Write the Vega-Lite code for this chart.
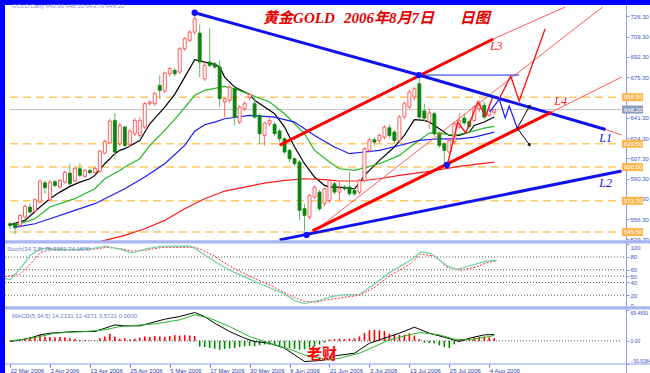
{
"$schema":"https://vega.github.io/schema/vega-lite/v6.json",
"background":"#0000ff",
"padding":{"left":3,"top":3,"right":2,"bottom":2},
"spacing":0,
"bounds":"flush",
"config":{"view":{"stroke":null,"fill":"white"},"axis":{"labelFont":"Liberation Sans","labelFontSize":6,"labelColor":"#4455cc","domainColor":"#8c9cf0","tickColor":"#8c9cf0","grid":false},"text":{"font":"Liberation Sans"}},
"datasets":{
"candles":[
{"n":0,"o":552.5,"h":554,"l":548,"c":551},{"n":1,"o":551.9,"h":554,"l":543.6,"c":549.1},{"n":2,"o":551.1,"h":560.5,"l":549,"c":559.5},{"n":3,"o":558.1,"h":568.7,"l":556.7,"c":567},{"n":4,"o":566.5,"h":569.3,"l":560.9,"c":562.3},{"n":5,"o":563.1,"h":574,"l":561,"c":572.6},{"n":6,"o":570.7,"h":589.4,"l":569.3,"c":588.3},{"n":7,"o":586.8,"h":588.8,"l":577.6,"c":582.7},{"n":8,"o":572.6,"h":589,"l":571,"c":587.4},{"n":9,"o":587.7,"h":589.4,"l":583,"c":584.6},
{"n":10,"o":583.2,"h":590,"l":582,"c":588.8},{"n":11,"o":587.4,"h":597,"l":586,"c":595.5},{"n":12,"o":594.9,"h":602.8,"l":584.6,"c":586},{"n":13,"o":588.3,"h":600.5,"l":587,"c":598.9},{"n":14,"o":598.6,"h":603.3,"l":591.6,"c":593},{"n":15,"o":592.2,"h":598.5,"l":591,"c":597.2},{"n":16,"o":597.2,"h":598.5,"l":594,"c":595.2},{"n":17,"o":595.5,"h":600,"l":594.5,"c":598.9},{"n":18,"o":596.6,"h":614.5,"l":595,"c":613.4},{"n":19,"o":611.7,"h":623,"l":610.5,"c":621.5},
{"n":20,"o":620.1,"h":640.5,"l":619.5,"c":638.5},{"n":21,"o":639.1,"h":645.3,"l":607,"c":612.6},{"n":22,"o":619.5,"h":637,"l":617,"c":634.9},{"n":23,"o":633.5,"h":634.9,"l":616.8,"c":618.1},{"n":24,"o":619,"h":632,"l":617,"c":630.2},{"n":25,"o":627.9,"h":641,"l":626,"c":639.1},{"n":26,"o":626.5,"h":641.9,"l":625,"c":639.1},{"n":27,"o":633.5,"h":654.5,"l":632,"c":653.1},{"n":28,"o":653.1,"h":656,"l":651.5,"c":654.5},{"n":29,"o":653.1,"h":663,"l":651,"c":661.5},
{"n":30,"o":668.4,"h":676.8,"l":657.3,"c":664.3},{"n":31,"o":663.7,"h":680,"l":662,"c":678.8},{"n":32,"o":678.2,"h":684,"l":676,"c":682.4},{"n":33,"o":681,"h":683,"l":676,"c":678.2},{"n":34,"o":679.6,"h":700.5,"l":678,"c":699.2},{"n":35,"o":699.2,"h":709,"l":697,"c":707.6},{"n":36,"o":706.2,"h":714.5,"l":705,"c":713.1},{"n":37,"o":713.1,"h":727.1,"l":711,"c":724.3},{"n":38,"o":712.3,"h":719.6,"l":675.4,"c":688},{"n":39,"o":674,"h":688,"l":672,"c":685.2},
{"n":40,"o":688,"h":716.8,"l":683.8,"c":685.2},{"n":41,"o":686.6,"h":688,"l":682,"c":683.8},{"n":42,"o":683.8,"h":689.4,"l":650.3,"c":657.3},{"n":43,"o":654.5,"h":658,"l":641.9,"c":657.3},{"n":44,"o":655.9,"h":669,"l":654,"c":667},{"n":45,"o":665.6,"h":667,"l":634.9,"c":641.9},{"n":46,"o":637.7,"h":652,"l":636,"c":650.3},{"n":47,"o":648.9,"h":655,"l":647,"c":653.1},{"n":48,"o":658.1,"h":662,"l":656,"c":660.9},{"n":49,"o":653.1,"h":658.7,"l":640.5,"c":641.9},
{"n":50,"o":643.3,"h":645,"l":619.5,"c":627.9},{"n":51,"o":626.5,"h":637.7,"l":618.1,"c":636.9},{"n":52,"o":636.3,"h":641,"l":634,"c":639.1},{"n":53,"o":635.8,"h":638,"l":626,"c":627.9},{"n":54,"o":630.2,"h":632,"l":621,"c":623.7},{"n":55,"o":623.7,"h":625,"l":611.2,"c":612.6},{"n":56,"o":614,"h":615,"l":604.2,"c":607},{"n":57,"o":607,"h":608,"l":600.6,"c":602.8},{"n":58,"o":604.2,"h":606,"l":555.3,"c":563.7},{"n":59,"o":565.1,"h":569.3,"l":546,"c":559.5},
{"n":60,"o":558.1,"h":577.6,"l":556,"c":576.2},{"n":61,"o":574.8,"h":584.6,"l":573,"c":583.2},{"n":62,"o":579,"h":581,"l":563,"c":565.1},{"n":63,"o":569.3,"h":583,"l":567,"c":581.8},{"n":64,"o":572,"h":590.2,"l":570,"c":588.8},{"n":65,"o":586,"h":588,"l":577,"c":579},{"n":66,"o":579,"h":587.4,"l":572,"c":581.8},{"n":67,"o":583.2,"h":585,"l":580,"c":581.8},{"n":68,"o":583.2,"h":595.8,"l":576,"c":577.6},{"n":69,"o":580.4,"h":582,"l":576,"c":577.6},
{"n":70,"o":579,"h":590,"l":577,"c":588.8},{"n":71,"o":588.8,"h":617,"l":587,"c":615.4},{"n":72,"o":614,"h":624,"l":612,"c":622.9},{"n":73,"o":622.9,"h":625,"l":618,"c":620.9},{"n":74,"o":622.3,"h":628,"l":620,"c":626.5},{"n":75,"o":625.1,"h":635,"l":623,"c":633.5},{"n":76,"o":632.9,"h":635.7,"l":624,"c":626.5},{"n":77,"o":629.3,"h":631,"l":620,"c":622.3},{"n":78,"o":622.3,"h":643.5,"l":620,"c":641.9},{"n":79,"o":641.9,"h":655,"l":640,"c":653.1},
{"n":80,"o":650.3,"h":665,"l":649,"c":662.9},{"n":81,"o":658.7,"h":667,"l":656,"c":665.6},{"n":82,"o":669.8,"h":676,"l":640,"c":641.9},{"n":83,"o":647,"h":653,"l":638,"c":641},{"n":84,"o":638,"h":649,"l":632,"c":645.3},{"n":85,"o":644.7,"h":646.5,"l":626,"c":627.9},{"n":86,"o":627.9,"h":630,"l":616,"c":618.1},{"n":87,"o":619.5,"h":621,"l":603,"c":614},{"n":88,"o":612.6,"h":624,"l":611,"c":622.3},{"n":89,"o":621,"h":638,"l":620,"c":636.3},
{"n":90,"o":633.5,"h":645,"l":632,"c":639.1},{"n":91,"o":641,"h":645,"l":635,"c":637},{"n":92,"o":638,"h":640,"l":632,"c":634},{"n":93,"o":639.1,"h":652,"l":638,"c":650.3},{"n":94,"o":648.9,"h":656,"l":646,"c":653.1},{"n":95,"o":651.7,"h":655,"l":640,"c":641.9},{"n":96,"o":643.3,"h":653,"l":642,"c":647.5},{"n":97,"o":645.9,"h":648.5,"l":643.7,"c":648.2}
],
"ma":[
{"s":"ma1","n":0,"p":551.6},{"s":"ma1","n":3,"p":555.3},{"s":"ma1","n":6,"p":566.5},{"s":"ma1","n":8,"p":573.5},{"s":"ma1","n":10,"p":579},{"s":"ma1","n":12,"p":583.8},{"s":"ma1","n":14,"p":587.4},{"s":"ma1","n":16,"p":590.2},{"s":"ma1","n":17,"p":593},{"s":"ma1","n":19,"p":602.8},{"s":"ma1","n":21,"p":611.2},{"s":"ma1","n":22,"p":614},{"s":"ma1","n":23,"p":615.4},{"s":"ma1","n":26,"p":622.3},{"s":"ma1","n":28,"p":636.3},{"s":"ma1","n":31,"p":650.3},{"s":"ma1","n":33,"p":660.9},{"s":"ma1","n":35,"p":675.4},{"s":"ma1","n":37,"p":690},{"s":"ma1","n":39,"p":688},{"s":"ma1","n":41,"p":686},{"s":"ma1","n":42,"p":683.8},{"s":"ma1","n":43,"p":675.4},{"s":"ma1","n":45,"p":667},{"s":"ma1","n":48,"p":660.9},{"s":"ma1","n":49,"p":655.9},{"s":"ma1","n":51,"p":650.3},{"s":"ma1","n":53,"p":644.7},{"s":"ma1","n":55,"p":633.5},{"s":"ma1","n":57,"p":616.8},{"s":"ma1","n":59,"p":602.8},{"s":"ma1","n":61,"p":591.6},{"s":"ma1","n":63,"p":584.6},{"s":"ma1","n":64,"p":583.2},{"s":"ma1","n":66,"p":583.2},{"s":"ma1","n":69,"p":581.8},{"s":"ma1","n":70,"p":586.5},{"s":"ma1","n":71,"p":593},{"s":"ma1","n":72,"p":597.2},{"s":"ma1","n":74,"p":605.6},{"s":"ma1","n":77,"p":616.8},{"s":"ma1","n":79,"p":626.5},{"s":"ma1","n":81,"p":639.7},{"s":"ma1","n":83,"p":639.1},{"s":"ma1","n":84,"p":637.7},{"s":"ma1","n":86,"p":632.1},{"s":"ma1","n":88,"p":626.5},{"s":"ma1","n":90,"p":626.5},{"s":"ma1","n":92,"p":629.3},{"s":"ma1","n":93,"p":634.9},{"s":"ma1","n":95,"p":637.7},{"s":"ma1","n":97,"p":641.9},
{"s":"ma2","n":1,"p":551.1},{"s":"ma2","n":5,"p":556.7},{"s":"ma2","n":8,"p":566.5},{"s":"ma2","n":13,"p":573.5},{"s":"ma2","n":17,"p":581.8},{"s":"ma2","n":19,"p":590.2},{"s":"ma2","n":22,"p":597.2},{"s":"ma2","n":23,"p":600},{"s":"ma2","n":26,"p":607},{"s":"ma2","n":28,"p":618.1},{"s":"ma2","n":31,"p":630.7},{"s":"ma2","n":34,"p":644.7},{"s":"ma2","n":37,"p":660.1},{"s":"ma2","n":39,"p":664.3},{"s":"ma2","n":43,"p":667.6},{"s":"ma2","n":45,"p":665.6},{"s":"ma2","n":48,"p":660.9},{"s":"ma2","n":52,"p":654.5},{"s":"ma2","n":55,"p":644.7},{"s":"ma2","n":59,"p":627.9},{"s":"ma2","n":61,"p":614},{"s":"ma2","n":64,"p":604.2},{"s":"ma2","n":66,"p":598.6},{"s":"ma2","n":69,"p":597.2},{"s":"ma2","n":71,"p":599.4},{"s":"ma2","n":74,"p":602.8},{"s":"ma2","n":78,"p":609.8},{"s":"ma2","n":81,"p":619.5},{"s":"ma2","n":84,"p":628.5},{"s":"ma2","n":86,"p":628.5},{"s":"ma2","n":89,"p":626.5},{"s":"ma2","n":92,"p":629.3},{"s":"ma2","n":95,"p":632.7},{"s":"ma2","n":97,"p":634.1},
{"s":"ma3","n":1,"p":549.7},{"s":"ma3","n":5,"p":552.5},{"s":"ma3","n":8,"p":556.7},{"s":"ma3","n":13,"p":563.7},{"s":"ma3","n":17,"p":569.3},{"s":"ma3","n":21,"p":577.6},{"s":"ma3","n":23,"p":581.8},{"s":"ma3","n":27,"p":591.6},{"s":"ma3","n":31,"p":602.8},{"s":"ma3","n":35,"p":618.1},{"s":"ma3","n":37,"p":630},{"s":"ma3","n":39,"p":635.5},{"s":"ma3","n":41,"p":637.7},{"s":"ma3","n":43,"p":640.5},{"s":"ma3","n":48,"p":643.3},{"s":"ma3","n":53,"p":641.9},{"s":"ma3","n":57,"p":637.7},{"s":"ma3","n":61,"p":626.5},{"s":"ma3","n":65,"p":616.8},{"s":"ma3","n":68,"p":611.2},{"s":"ma3","n":71,"p":612.6},{"s":"ma3","n":74,"p":614},{"s":"ma3","n":78,"p":618.1},{"s":"ma3","n":82,"p":622.3},{"s":"ma3","n":86,"p":623.7},{"s":"ma3","n":90,"p":623.7},{"s":"ma3","n":93,"p":625.1},{"s":"ma3","n":97,"p":629.3},
{"s":"ma4","n":18,"p":537.3},{"s":"ma4","n":19,"p":538.5},{"s":"ma4","n":23,"p":542.7},{"s":"ma4","n":27,"p":548.3},{"s":"ma4","n":31,"p":555.3},{"s":"ma4","n":35,"p":565.1},{"s":"ma4","n":39,"p":573.5},{"s":"ma4","n":43,"p":579.9},{"s":"ma4","n":47,"p":583.2},{"s":"ma4","n":51,"p":586.6},{"s":"ma4","n":55,"p":588.8},{"s":"ma4","n":59,"p":590.2},{"s":"ma4","n":63,"p":589.4},{"s":"ma4","n":66,"p":588.3},{"s":"ma4","n":70,"p":588.3},{"s":"ma4","n":74,"p":590.2},{"s":"ma4","n":78,"p":593},{"s":"ma4","n":84,"p":596.4},{"s":"ma4","n":90,"p":600.6},{"s":"ma4","n":97,"p":604.2}
],
"tl":[
{"id":"L1","n":37.0,"p":729.3},{"id":"L1","n":81.9,"p":677.1},{"id":"L1","n":119.3,"p":631.5},
{"id":"L1x","n":119.3,"p":631.5},{"id":"L1x","n":122.5,"p":626.9},
{"id":"L2","n":54.0,"p":539.0},{"id":"L2","n":122.5,"p":596.7},
{"id":"L3","n":54.0,"p":618.4},{"id":"L3","n":96.8,"p":707.3},
{"id":"L3x","n":96.8,"p":707.3},{"id":"L3x","n":111.2,"p":734.1},
{"id":"L4","n":60.6,"p":546.5},{"id":"L4","n":108.5,"p":646.1},
{"id":"L4x","n":108.5,"p":646.1},{"id":"L4x","n":122.5,"p":675.4},
{"id":"TB","n":60.0,"p":543.1},{"id":"TB","n":118.7,"p":734.1},
{"id":"HL","n":81.9,"p":677.1},{"id":"HL","n":102.0,"p":677.1},
{"id":"ZR1","n":87.6,"p":601.7},{"id":"ZR1","n":89.7,"p":637.7},{"id":"ZR1","n":91.3,"p":628.5},{"id":"ZR1","n":93.7,"p":654.5},{"id":"ZR1","n":95.3,"p":642.8},{"id":"ZR1","n":96.6,"p":657.8},
{"id":"ZB","n":96.1,"p":646.1},{"id":"ZB","n":98.0,"p":657.0},{"id":"ZB","n":99.2,"p":641.1},{"id":"ZB","n":100.0,"p":651.2},{"id":"ZB","n":101.6,"p":632.7},
{"id":"ZR2","n":98.0,"p":657.0},{"id":"ZR2","n":100.3,"p":676.3},{"id":"ZR2","n":102.0,"p":655.3},{"id":"ZR2","n":107.2,"p":715.9},
{"id":"AU","n":101.6,"p":632.7},{"id":"AU","n":104.1,"p":651.2},
{"id":"AD","n":101.6,"p":632.7},{"id":"AD","n":104.1,"p":618.4}
],
"dots":[{"n":37.0,"p":729.3},{"n":81.9,"p":677.1},{"n":59.4,"p":543.1},{"n":87.5,"p":601.7}],
"lbl":[{"t":"L1","n":119.3,"p":624.3},{"t":"L2","n":119.3,"p":586.6},{"t":"L3","n":97.4,"p":701.4},{"t":"L4","n":110.3,"p":655.3}],
"tags":[{"p":658.5,"k":"level"},{"p":648.2,"k":"bid"},{"p":619.5,"k":"level"},{"p":600.0,"k":"level"},{"p":571.7,"k":"level"},{"p":545.5,"k":"level"}],
"st":[
{"s":"K","n":0,"v":46.1},{"s":"K","n":1,"v":44.6},{"s":"K","n":3,"v":61.8},{"s":"K","n":5,"v":82.7},{"s":"K","n":7,"v":93.1},{"s":"K","n":8,"v":93.1},{"s":"K","n":13,"v":91.6},{"s":"K","n":17,"v":93.1},{"s":"K","n":20,"v":96.8},{"s":"K","n":23,"v":91.6},{"s":"K","n":25,"v":86.3},{"s":"K","n":28,"v":93.1},{"s":"K","n":31,"v":96.8},{"s":"K","n":36,"v":97.3},{"s":"K","n":37,"v":95.8},{"s":"K","n":39,"v":85.3},{"s":"K","n":42,"v":69.7},{"s":"K","n":45,"v":56.6},{"s":"K","n":48,"v":46.1},{"s":"K","n":51,"v":35.6},{"s":"K","n":55,"v":22.6},{"s":"K","n":57,"v":12.2},{"s":"K","n":59,"v":7.0},{"s":"K","n":62,"v":12.2},{"s":"K","n":64,"v":17},{"s":"K","n":66,"v":20.1},{"s":"K","n":70,"v":21.6},{"s":"K","n":73,"v":38.3},{"s":"K","n":76,"v":56.6},{"s":"K","n":80,"v":74.9},{"s":"K","n":82,"v":87.9},{"s":"K","n":84,"v":85.3},{"s":"K","n":87,"v":67.1},{"s":"K","n":89,"v":60.3},{"s":"K","n":92,"v":67.1},{"s":"K","n":95,"v":73.4},{"s":"K","n":97,"v":75.2},
{"s":"D","n":0,"v":49},{"s":"D","n":3,"v":53},{"s":"D","n":5,"v":69},{"s":"D","n":7,"v":87},{"s":"D","n":9,"v":92},{"s":"D","n":13,"v":91},{"s":"D","n":17,"v":92},{"s":"D","n":20,"v":95},{"s":"D","n":23,"v":93},{"s":"D","n":25,"v":89},{"s":"D","n":28,"v":91},{"s":"D","n":31,"v":95},{"s":"D","n":37,"v":95.3},{"s":"D","n":38,"v":94},{"s":"D","n":41,"v":83},{"s":"D","n":44,"v":67},{"s":"D","n":47,"v":54.5},{"s":"D","n":50,"v":43.7},{"s":"D","n":53,"v":33},{"s":"D","n":56,"v":20.3},{"s":"D","n":59,"v":10.4},{"s":"D","n":61,"v":9},{"s":"D","n":63,"v":12.2},{"s":"D","n":70,"v":20.1},{"s":"D","n":73,"v":33},{"s":"D","n":76,"v":51.4},{"s":"D","n":80,"v":69.7},{"s":"D","n":82,"v":84.3},{"s":"D","n":85,"v":81.2},{"s":"D","n":87,"v":64.5},{"s":"D","n":90,"v":59.3},{"s":"D","n":93,"v":64.5},{"s":"D","n":95,"v":70.8},{"s":"D","n":97,"v":74.2}
],
"macd":[
{"s":"main","n":0,"v":-1.5},{"s":"main","n":2,"v":2.3},{"s":"main","n":4,"v":6},{"s":"main","n":6,"v":13.5},{"s":"main","n":8,"v":17.3},{"s":"main","n":13,"v":21},{"s":"main","n":17,"v":21},{"s":"main","n":21,"v":36},{"s":"main","n":23,"v":33.8},{"s":"main","n":26,"v":33.8},{"s":"main","n":28,"v":39.8},{"s":"main","n":31,"v":48.8},{"s":"main","n":34,"v":54.8},{"s":"main","n":37,"v":63.8},{"s":"main","n":39,"v":54.8},{"s":"main","n":41,"v":39.8},{"s":"main","n":44,"v":21},{"s":"main","n":47,"v":6},{"s":"main","n":49,"v":-1.5},{"s":"main","n":52,"v":-5.3},{"s":"main","n":55,"v":-16.5},{"s":"main","n":57,"v":-31.5},{"s":"main","n":59,"v":-46.5},{"s":"main","n":62,"v":-44.3},{"s":"main","n":64,"v":-41.3},{"s":"main","n":65,"v":-33.8},{"s":"main","n":69,"v":-27.8},{"s":"main","n":72,"v":-5.3},{"s":"main","n":76,"v":9.8},{"s":"main","n":78,"v":17.3},{"s":"main","n":81,"v":30.8},{"s":"main","n":84,"v":17.3},{"s":"main","n":87,"v":8.3},{"s":"main","n":90,"v":-1.5},{"s":"main","n":92,"v":6},{"s":"main","n":95,"v":13.5},{"s":"main","n":97,"v":14.2},
{"s":"signal","n":0,"v":0},{"s":"signal","n":3,"v":3.8},{"s":"signal","n":6,"v":9.8},{"s":"signal","n":9,"v":17.3},{"s":"signal","n":15,"v":21},{"s":"signal","n":19,"v":24.8},{"s":"signal","n":22,"v":32.3},{"s":"signal","n":29,"v":38.3},{"s":"signal","n":34,"v":47.3},{"s":"signal","n":37,"v":58.6},{"s":"signal","n":40,"v":51},{"s":"signal","n":44,"v":32.3},{"s":"signal","n":48,"v":9.8},{"s":"signal","n":52,"v":-5.3},{"s":"signal","n":56,"v":-18.8},{"s":"signal","n":59,"v":-31.5},{"s":"signal","n":62,"v":-39},{"s":"signal","n":64,"v":-42.8},{"s":"signal","n":66,"v":-39},{"s":"signal","n":70,"v":-27.8},{"s":"signal","n":73,"v":-12.8},{"s":"signal","n":76,"v":2.3},{"s":"signal","n":80,"v":13.5},{"s":"signal","n":82,"v":18.8},{"s":"signal","n":86,"v":13.5},{"s":"signal","n":89,"v":3.8},{"s":"signal","n":92,"v":2.3},{"s":"signal","n":96,"v":9.8},{"s":"signal","n":97,"v":12.4}
],
"hist":[
{"n":0,"v":1},{"n":1,"v":2},{"n":2,"v":3},{"n":3,"v":5},{"n":4,"v":9},{"n":5,"v":11},{"n":6,"v":13},{"n":7,"v":10},{"n":8,"v":9},{"n":9,"v":8},{"n":10,"v":9},{"n":11,"v":8},{"n":12,"v":6},{"n":13,"v":4},{"n":14,"v":2},{"n":15,"v":2},{"n":16,"v":1},{"n":17,"v":1},{"n":18,"v":6},{"n":19,"v":10},{"n":20,"v":16},{"n":21,"v":10},{"n":22,"v":5},{"n":23,"v":6},{"n":24,"v":3},{"n":25,"v":5},{"n":26,"v":7},{"n":27,"v":10},{"n":28,"v":9},{"n":29,"v":11},{"n":30,"v":10},{"n":31,"v":9},{"n":32,"v":11},{"n":33,"v":13},{"n":34,"v":12},{"n":35,"v":13},{"n":36,"v":12},{"n":37,"v":11},{"n":38,"v":-13},{"n":39,"v":-14},{"n":40,"v":-16},{"n":41,"v":-18},{"n":42,"v":-20},{"n":43,"v":-18},{"n":44,"v":-17},{"n":45,"v":-16},{"n":46,"v":-14},{"n":47,"v":-12},{"n":48,"v":-11},{"n":49,"v":-12},{"n":50,"v":-10},{"n":51,"v":-8},{"n":52,"v":-9},{"n":53,"v":-10},{"n":54,"v":-12},{"n":55,"v":-14},{"n":56,"v":-16},{"n":57,"v":-18},{"n":58,"v":-20},{"n":59,"v":-19},{"n":60,"v":-15},{"n":61,"v":-12},{"n":62,"v":-8},{"n":63,"v":-4},{"n":64,"v":3},{"n":65,"v":4},{"n":66,"v":5},{"n":67,"v":4},{"n":68,"v":5},{"n":69,"v":6},{"n":70,"v":10},{"n":71,"v":18},{"n":72,"v":24},{"n":73,"v":25},{"n":74,"v":24},{"n":75,"v":22},{"n":76,"v":16},{"n":77,"v":14},{"n":78,"v":13},{"n":79,"v":14},{"n":80,"v":17},{"n":81,"v":12},{"n":82,"v":4},{"n":83,"v":-4},{"n":84,"v":-5},{"n":85,"v":-6},{"n":86,"v":-10},{"n":87,"v":-14},{"n":88,"v":-16},{"n":89,"v":-8},{"n":90,"v":2},{"n":91,"v":3},{"n":92,"v":5},{"n":93,"v":8},{"n":94,"v":9},{"n":95,"v":10},{"n":96,"v":8},{"n":97,"v":6}
]
},
"vconcat":[
{
"width":645,"height":237,
"encoding":{"y":{"field":"p","type":"quantitative","scale":{"domain":[537.2,735.8],"nice":false,"zero":false},
 "axis":{"orient":"right","offset":-24,"values":[726.3,709.3,692.3,675.3,641.3,624.3,607.3,590.3,573.3,556.3,539.3],"format":".2f","tickSize":3,"labelPadding":1,"labelOverlap":false,"labelBound":false,"title":null}}},
"layer":[
{"data":{"values":[{"p":658.5},{"p":619.5},{"p":600.0},{"p":571.7},{"p":545.5}]},"mark":{"type":"rule","color":"#ffc864","strokeWidth":1.5,"strokeDash":[8,5]},
 "encoding":{"x":{"datum":0,"type":"quantitative","axis":null},"x2":{"datum":122.5}}},
{"data":{"values":[{"p":648.2}]},"mark":{"type":"rule","color":"#c4c4c4","strokeWidth":1},
 "encoding":{"x":{"datum":0,"type":"quantitative","axis":null},"x2":{"datum":122.5}}},
{"data":{"values":[{"p":537.2}]},"mark":{"type":"rule","color":"#a9b6f2","strokeWidth":3}},
{"data":{"name":"ma"},"mark":{"type":"line","strokeWidth":1.2,"clip":true},
 "encoding":{"x":{"field":"n","type":"quantitative","axis":null},"color":{"field":"s","type":"nominal","scale":{"domain":["ma1","ma2","ma3","ma4"],"range":["#000000","#22b822","#1a1aff","#ff1a1a"]},"legend":null}}},
{"data":{"name":"candles"},"mark":{"type":"rule","strokeWidth":1,"clip":true},
 "encoding":{"x":{"field":"n","type":"quantitative","scale":{"domain":[0,127.2],"nice":false,"zero":false},"axis":null},
 "y":{"field":"l"},"y2":{"field":"h"},"color":{"condition":{"test":"datum.c >= datum.o","value":"#ff6a6a"},"value":"#5cbf5c"}}},
{"data":{"name":"candles"},"mark":{"type":"bar","width":3,"strokeWidth":0.8,"clip":true},
 "encoding":{"x":{"field":"n","type":"quantitative","axis":null},"y":{"field":"o"},"y2":{"field":"c"},
 "fill":{"condition":{"test":"datum.c >= datum.o","value":"#ffffff"},"value":"#0e820e"},
 "stroke":{"condition":{"test":"datum.c >= datum.o","value":"#ff3b3b"},"value":"#0e820e"}}},
{"data":{"name":"tl"},"transform":[{"filter":{"field":"id","oneOf":["L1x","L3x","L4x","TB"]}}],"mark":{"type":"line","color":"#ff5a5a","strokeWidth":1,"clip":true},
 "encoding":{"x":{"field":"n","type":"quantitative","axis":null},"detail":{"field":"id"}}},
{"data":{"name":"tl"},"transform":[{"filter":{"field":"id","oneOf":["L1","L2"]}}],"mark":{"type":"line","color":"#1212f0","strokeWidth":3,"clip":true},
 "encoding":{"x":{"field":"n","type":"quantitative","axis":null},"detail":{"field":"id"}}},
{"data":{"name":"tl"},"transform":[{"filter":{"field":"id","oneOf":["L3","L4"]}}],"mark":{"type":"line","color":"#ff0000","strokeWidth":3,"clip":true},
 "encoding":{"x":{"field":"n","type":"quantitative","axis":null},"detail":{"field":"id"}}},
{"data":{"name":"tl"},"transform":[{"filter":{"field":"id","oneOf":["HL"]}}],"mark":{"type":"line","color":"#1a2ad0","strokeWidth":1,"clip":true},
 "encoding":{"x":{"field":"n","type":"quantitative","axis":null},"detail":{"field":"id"}}},
{"data":{"name":"tl"},"transform":[{"filter":{"field":"id","oneOf":["ZR1","ZR2"]}}],"mark":{"type":"line","color":"#ff1010","strokeWidth":1.3,"clip":true},
 "encoding":{"x":{"field":"n","type":"quantitative","axis":null},"detail":{"field":"id"}}},
{"data":{"name":"tl"},"transform":[{"filter":{"field":"id","oneOf":["ZB"]}}],"mark":{"type":"line","color":"#1a1aff","strokeWidth":1.2,"clip":true},
 "encoding":{"x":{"field":"n","type":"quantitative","axis":null},"detail":{"field":"id"}}},
{"data":{"name":"tl"},"transform":[{"filter":{"field":"id","oneOf":["AU","AD"]}}],"mark":{"type":"line","color":"#000000","strokeWidth":1,"clip":true},
 "encoding":{"x":{"field":"n","type":"quantitative","axis":null},"detail":{"field":"id"}}},
{"data":{"values":[{"n":104.1,"p":651.2}]},"mark":{"type":"point","shape":"triangle-up","filled":true,"color":"#000000","size":14,"angle":31,"opacity":1},
 "encoding":{"x":{"field":"n","type":"quantitative","axis":null}}},
{"data":{"values":[{"n":104.1,"p":618.4}]},"mark":{"type":"point","shape":"triangle-up","filled":true,"color":"#000000","size":14,"angle":143,"opacity":1},
 "encoding":{"x":{"field":"n","type":"quantitative","axis":null}}},
{"data":{"name":"dots"},"mark":{"type":"point","filled":true,"color":"#1111ff","size":40,"opacity":1},
 "encoding":{"x":{"field":"n","type":"quantitative","axis":null}}},
{"data":{"name":"lbl"},"mark":{"type":"text","font":"Liberation Serif","fontStyle":"italic","fontSize":12,"align":"center","baseline":"middle"},
 "encoding":{"x":{"field":"n","type":"quantitative","axis":null},"text":{"field":"t"},"color":{"condition":{"test":"datum.t == 'L1' || datum.t == 'L2'","value":"#1010e0"},"value":"#ff1a1a"}}},
{"data":{"values":[{"t":"黄金GOLD","n":50.7,"p":725.3},{"t":"2006年8月7日","n":66.9,"p":725.3},{"t":"日图","n":90.1,"p":725.3}]},
 "mark":{"type":"text","font":"Liberation Serif, Noto Sans CJK SC","fontStyle":"italic","fontWeight":"bold","fontSize":15,"align":"left","baseline":"middle","color":"#e60000"},
 "encoding":{"x":{"field":"n","type":"quantitative","axis":null},"text":{"field":"t"}}},
{"data":{"values":[{"t":"GOLD,Daily  645.90 648.50 643.70 648.20","n":0.4,"p":734.6}]},
 "mark":{"type":"text","fontSize":6,"align":"left","baseline":"middle","color":"#8a96c8"},
 "encoding":{"x":{"field":"n","type":"quantitative","axis":null},"text":{"field":"t"}}},
{"data":{"name":"tags"},"mark":{"type":"rule","strokeWidth":8},
 "encoding":{"x":{"datum":122.6,"type":"quantitative","axis":null},"x2":{"datum":126.8},"color":{"condition":{"test":"datum.k == 'bid'","value":"#8c9abf"},"value":"#ffb44a"}}},
{"data":{"name":"tags"},"mark":{"type":"text","fontSize":6,"align":"left","baseline":"middle","color":"#ffffff","dx":2},
 "encoding":{"x":{"datum":122.6,"type":"quantitative","axis":null},"text":{"field":"p","format":".2f"}}}
]
},
{
"width":645,"height":66,
"encoding":{"y":{"field":"v","type":"quantitative","scale":{"domain":[0,103.5],"nice":false,"zero":false},
 "axis":{"orient":"right","offset":-24,"values":[0,20,40,50,60,80,100],"tickSize":3,"labelPadding":1,"labelFlush":5,"labelOverlap":false,"title":null}}},
"layer":[
{"data":{"values":[{"v":20},{"v":40},{"v":50},{"v":60},{"v":80}]},"mark":{"type":"rule","color":"#555555","strokeWidth":1,"strokeDash":[1,2]},
 "encoding":{"x":{"datum":0,"type":"quantitative","axis":null},"x2":{"datum":122.5}}},
{"data":{"values":[{"v":103.5},{"v":0}]},"mark":{"type":"rule","color":"#a9b6f2","strokeWidth":3}},
{"data":{"name":"st"},"transform":[{"filter":"datum.s == 'D'"}],"mark":{"type":"line","color":"#ff3030","strokeWidth":1,"strokeDash":[2,1.5],"clip":true},
 "encoding":{"x":{"field":"n","type":"quantitative","scale":{"domain":[0,127.2],"nice":false,"zero":false},"axis":null}}},
{"data":{"name":"st"},"transform":[{"filter":"datum.s == 'K'"}],"mark":{"type":"line","color":"#70d0a8","strokeWidth":1.2,"clip":true},
 "encoding":{"x":{"field":"n","type":"quantitative","axis":null}}},
{"data":{"values":[{"t":"Stoch(34,3,5) 75.2151 74.1670","n":0.4,"v":92.5}]},"mark":{"type":"text","fontSize":6,"align":"left","baseline":"middle","color":"#6a7ad0"},
 "encoding":{"x":{"field":"n","type":"quantitative","axis":null},"text":{"field":"t"}}}
]
},
{
"width":645,"height":65,
"encoding":{"y":{"field":"v","type":"quantitative","scale":{"domain":[-72.3,74.0],"nice":false,"zero":false},
 "axis":{"orient":"right","offset":-24,"values":[69.4691,0,-50.9384],"labelExpr":"datum.value == 0 ? '0.00' : format(datum.value, '.4f')","labelFontSize":5,"tickSize":3,"labelPadding":1,"labelOverlap":false,"labelBound":false,"title":null,
 "labelBaseline":{"condition":[{"test":"datum.value > 1","value":"top"},{"test":"datum.value < -1","value":"bottom"}],"value":"middle"}}}},
"layer":[
{"data":{"values":[{"v":0}]},"mark":{"type":"rule","color":"#555555","strokeWidth":1,"strokeDash":[1,2]},
 "encoding":{"x":{"datum":0,"type":"quantitative","axis":{"orient":"bottom","offset":-9,"values":[0,8,16,24,32,40,48,56,64,72,80,88,96],"labelExpr":"['22 Mar 2006','3 Apr 2006','13 Apr 2006','25 Apr 2006','5 May 2006','17 May 2006','30 May 2006','9 Jun 2006','21 Jun 2006','3 Jul 2006','13 Jul 2006','25 Jul 2006','4 Aug 2006'][round(datum.value/8)]","labelAlign":"left","labelBaseline":"top","tickSize":3,"labelPadding":0,"domain":false,"labelColor":"#3344aa","tickColor":"#6a7ae0","labelOverlap":false,"labelFlush":false,"labelBound":false,"title":null}},"x2":{"datum":122.5}}},
{"data":{"values":[{"v":74.0}]},"mark":{"type":"rule","color":"#a9b6f2","strokeWidth":3}},
{"data":{"values":[{"v":-52.0}]},"mark":{"type":"rule","color":"#8c9cf0","strokeWidth":1}},
{"data":{"name":"hist"},"mark":{"type":"bar","width":1.6,"clip":true},
 "encoding":{"x":{"field":"n","type":"quantitative","scale":{"domain":[0,127.2],"nice":false,"zero":false},
 "axis":{"orient":"bottom","offset":-9,"values":[0,8,16,24,32,40,48,56,64,72,80,88,96],"labelExpr":"['22 Mar 2006','3 Apr 2006','13 Apr 2006','25 Apr 2006','5 May 2006','17 May 2006','30 May 2006','9 Jun 2006','21 Jun 2006','3 Jul 2006','13 Jul 2006','25 Jul 2006','4 Aug 2006'][round(datum.value/8)]","labelAlign":"left","labelBaseline":"top","tickSize":3,"labelPadding":0,"domain":false,"labelColor":"#3344aa","tickColor":"#6a7ae0","labelOverlap":false,"labelFlush":false,"labelBound":false,"title":null}},
 "y2":{"datum":0},"color":{"condition":{"test":"datum.v >= 0","value":"#ff0000"},"value":"#008a00"}}},
{"data":{"name":"macd"},"mark":{"type":"line","strokeWidth":1,"clip":true},
 "encoding":{"x":{"field":"n","type":"quantitative","axis":{"orient":"bottom","offset":-9,"values":[0,8,16,24,32,40,48,56,64,72,80,88,96],"labelExpr":"['22 Mar 2006','3 Apr 2006','13 Apr 2006','25 Apr 2006','5 May 2006','17 May 2006','30 May 2006','9 Jun 2006','21 Jun 2006','3 Jul 2006','13 Jul 2006','25 Jul 2006','4 Aug 2006'][round(datum.value/8)]","labelAlign":"left","labelBaseline":"top","tickSize":3,"labelPadding":0,"domain":false,"labelColor":"#3344aa","tickColor":"#6a7ae0","labelOverlap":false,"labelFlush":false,"labelBound":false,"title":null}},
 "color":{"field":"s","type":"nominal","scale":{"domain":["main","signal"],"range":["#3a3a3a","#ff4a4a"]},"legend":null}}},
{"data":{"values":[{"t":"MACD(5,34,5) 14.2131 12.4271 3.5721 0.0000","n":0.4,"v":56.0}]},"mark":{"type":"text","fontSize":6,"align":"left","baseline":"middle","color":"#6a7ad0"},
 "encoding":{"x":{"field":"n","type":"quantitative","axis":{"orient":"bottom","offset":-9,"values":[0,8,16,24,32,40,48,56,64,72,80,88,96],"labelExpr":"['22 Mar 2006','3 Apr 2006','13 Apr 2006','25 Apr 2006','5 May 2006','17 May 2006','30 May 2006','9 Jun 2006','21 Jun 2006','3 Jul 2006','13 Jul 2006','25 Jul 2006','4 Aug 2006'][round(datum.value/8)]","labelAlign":"left","labelBaseline":"top","tickSize":3,"labelPadding":0,"domain":false,"labelColor":"#3344aa","tickColor":"#6a7ae0","labelOverlap":false,"labelFlush":false,"labelBound":false,"title":null}},"text":{"field":"t"}}},
{"data":{"values":[{"t":"老财","n":62.5,"v":-29.5}]},"mark":{"type":"text","font":"Noto Sans CJK SC","fontWeight":"bold","fontSize":15,"align":"center","baseline":"middle","color":"#ff0000"},
 "encoding":{"x":{"field":"n","type":"quantitative","axis":{"orient":"bottom","offset":-9,"values":[0,8,16,24,32,40,48,56,64,72,80,88,96],"labelExpr":"['22 Mar 2006','3 Apr 2006','13 Apr 2006','25 Apr 2006','5 May 2006','17 May 2006','30 May 2006','9 Jun 2006','21 Jun 2006','3 Jul 2006','13 Jul 2006','25 Jul 2006','4 Aug 2006'][round(datum.value/8)]","labelAlign":"left","labelBaseline":"top","tickSize":3,"labelPadding":0,"domain":false,"labelColor":"#3344aa","tickColor":"#6a7ae0","labelOverlap":false,"labelFlush":false,"labelBound":false,"title":null}},"text":{"field":"t"}}}
]
}
]
}
